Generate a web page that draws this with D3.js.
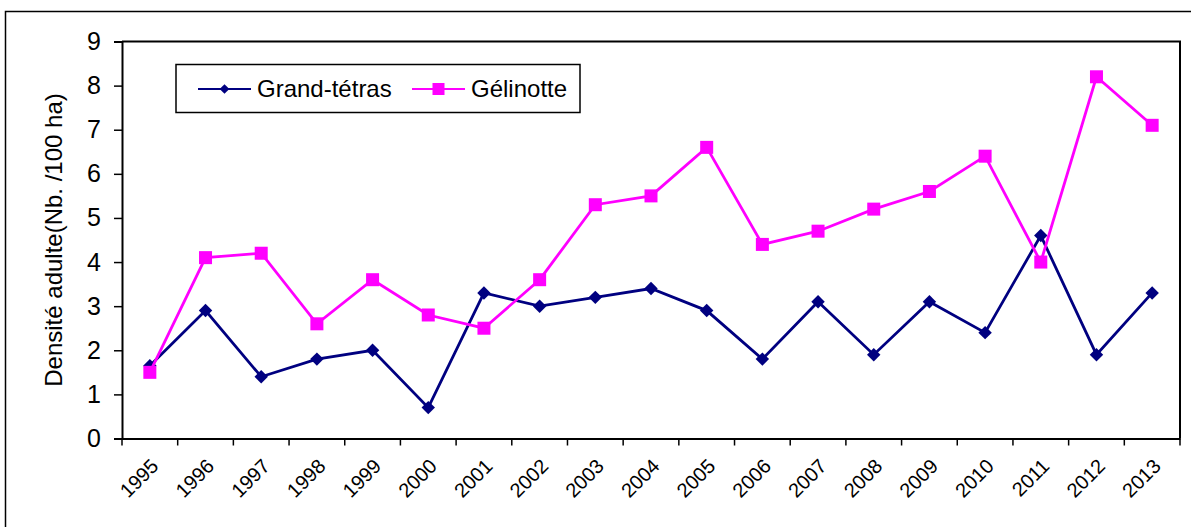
<!DOCTYPE html>
<html>
<head>
<meta charset="utf-8">
<script src="https://cdn.jsdelivr.net/npm/d3@7"></script>
<style>
  body { margin: 0; background: #fff; }
  text { font-family: "Liberation Sans", Arial, sans-serif; }
</style>
</head>
<body>
<div id="chart"></div>
<script>
const years = ["1995","1996","1997","1998","1999","2000","2001","2002","2003","2004",
               "2005","2006","2007","2008","2009","2010","2011","2012","2013"];
const grandTetras = [1.65, 2.9, 1.4, 1.8, 2.0, 0.7, 3.3, 3.0, 3.2, 3.4,
                     2.9, 1.8, 3.1, 1.9, 3.1, 2.4, 4.6, 1.9, 3.3];
const gelinotte = [1.5, 4.1, 4.2, 2.6, 3.6, 2.8, 2.5, 3.6, 5.3, 5.5,
                   6.6, 4.4, 4.7, 5.2, 5.6, 6.4, 4.0, 8.2, 7.1];
const yTicks = [0, 1, 2, 3, 4, 5, 6, 7, 8, 9];

const width = 1191;
const height = 527;
const tetrasColor = "#000080";
const gelinotteColor = "#FF00FF";

const plot = { left: 122, right: 1180, top: 41.5, bottom: 438.5 };

const svg = d3.select("#chart").append("svg")
    .attr("width", width)
    .attr("height", height);

// outer chart frame
svg.append("rect")
    .attr("x", 5.5).attr("y", 11.5)
    .attr("width", width + 10).attr("height", height + 10)
    .attr("fill", "none").attr("stroke", "#000").attr("stroke-width", 1.5);

const x = d3.scaleBand().domain(years).range([plot.left, plot.right]);
const y = d3.scaleLinear().domain([0, 9]).range([plot.bottom, plot.top]);

// plot area border (top + right)
svg.append("path")
    .attr("d", `M${plot.left},${plot.top}H${plot.right}V${plot.bottom}`)
    .attr("fill", "none").attr("stroke", "#000").attr("stroke-width", 2);

// y axis
const yAxis = svg.append("g")
    .attr("transform", `translate(${plot.left},0)`)
    .call(d3.axisLeft(y).tickValues(yTicks).tickSize(8).tickPadding(13));
yAxis.select(".domain").attr("stroke-width", 2);
yAxis.selectAll(".tick line").attr("stroke-width", 1.5);
yAxis.selectAll(".tick text")
    .attr("font-size", 25).attr("fill", "#000")
    .style("font-family", "Liberation Sans, Arial, sans-serif");

// x axis: ticks on category boundaries
const xAxis = svg.append("g")
    .attr("transform", `translate(0,${plot.bottom})`)
    .call(d3.axisBottom(x).tickSize(0).tickFormat(""));
xAxis.select(".domain").attr("stroke-width", 2);
const boundaries = years.map(d => x(d)).concat([plot.right]);
xAxis.selectAll(".bound")
    .data(boundaries)
    .join("line")
    .attr("x1", d => d).attr("x2", d => d)
    .attr("y1", 0).attr("y2", 7)
    .attr("stroke", "#000").attr("stroke-width", 1.5);

svg.append("g").selectAll("text")
    .data(years)
    .join("text")
    .attr("transform", d => `translate(${x(d) + x.bandwidth() / 2},${plot.bottom + 19}) rotate(-45)`)
    .attr("text-anchor", "end")
    .attr("dy", "0.7em")
    .attr("font-size", 20)
    .text(d => d);

// y label
svg.append("text")
    .attr("transform", `translate(62,${(plot.top + plot.bottom) / 2}) rotate(-90)`)
    .attr("text-anchor", "middle")
    .attr("font-size", 24)
    .text("Densité adulte(Nb. /100 ha)");

const line = d3.line()
    .x((d, i) => x(years[i]) + x.bandwidth() / 2)
    .y(d => y(d));

// Grand-tétras
svg.append("path")
    .datum(grandTetras)
    .attr("d", line)
    .attr("fill", "none").attr("stroke", tetrasColor).attr("stroke-width", 2.8);
svg.append("g").selectAll("path")
    .data(grandTetras)
    .join("path")
    .attr("transform", (d, i) => `translate(${x(years[i]) + x.bandwidth() / 2},${y(d)})`)
    .attr("d", d3.symbol(d3.symbolDiamond2, 115))
    .attr("fill", tetrasColor);

// Gélinotte
svg.append("path")
    .datum(gelinotte)
    .attr("d", line)
    .attr("fill", "none").attr("stroke", gelinotteColor).attr("stroke-width", 2.8);
svg.append("g").selectAll("rect")
    .data(gelinotte)
    .join("rect")
    .attr("x", (d, i) => x(years[i]) + x.bandwidth() / 2 - 6.5)
    .attr("y", d => y(d) - 6.5)
    .attr("width", 13).attr("height", 13)
    .attr("fill", gelinotteColor);

// legend
const legend = svg.append("g");
legend.append("rect")
    .attr("x", 176).attr("y", 64.5)
    .attr("width", 404).attr("height", 48)
    .attr("fill", "#fff").attr("stroke", "#000").attr("stroke-width", 1.5);

const legendItems = [
  { name: "Grand-tétras", color: tetrasColor, x0: 198, marker: "diamond" },
  { name: "Gélinotte", color: gelinotteColor, x0: 412, marker: "square" }
];
legendItems.forEach(item => {
  legend.append("line")
      .attr("x1", item.x0).attr("x2", item.x0 + 53)
      .attr("y1", 89).attr("y2", 89)
      .attr("stroke", item.color).attr("stroke-width", 2);
  if (item.marker === "diamond") {
    legend.append("path")
        .attr("transform", `translate(${item.x0 + 26.5},89)`)
        .attr("d", d3.symbol(d3.symbolDiamond2, 60))
        .attr("fill", item.color);
  } else {
    legend.append("rect")
        .attr("x", item.x0 + 20.5).attr("y", 83)
        .attr("width", 12).attr("height", 12)
        .attr("fill", item.color);
  }
  legend.append("text")
      .attr("x", item.x0 + 59).attr("y", 89)
      .attr("dy", "0.35em")
      .attr("font-size", 24)
      .text(item.name);
});
</script>
</body>
</html>
